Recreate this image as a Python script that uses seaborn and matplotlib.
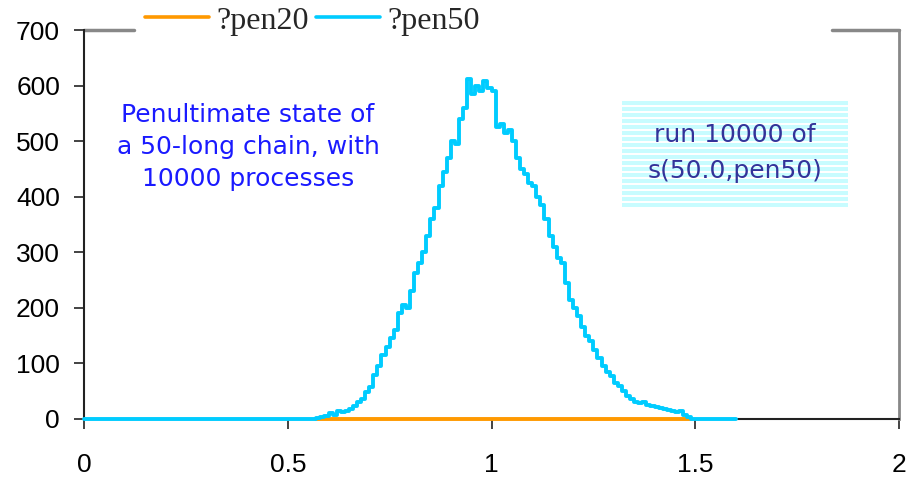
import numpy as np
import pandas as pd
import matplotlib
matplotlib.use("Agg")
import matplotlib.pyplot as plt
from matplotlib.patches import Rectangle
from matplotlib.lines import Line2D
import seaborn as sns

# ---------------- data ----------------
series_names = ["?pen20", "?pen50"]
bin_start = 0.57
bin_width = 0.01
pen50_counts = [2, 4, 6, 10, 8, 14, 12, 15, 18, 24,
                30, 36, 48, 58, 80, 96, 115, 130, 145, 160,
                190, 205, 200, 230, 262, 280, 300, 330, 360, 380,
                420, 445, 470, 500, 495, 540, 560, 612, 585, 600,
                590, 608, 595, 590, 525, 530, 515, 520, 500, 470,
                450, 440, 425, 420, 400, 385, 360, 330, 310, 290,
                280, 245, 215, 200, 185, 165, 150, 140, 125, 110,
                95, 85, 78, 65, 60, 50, 42, 36, 30, 28,
                30, 25, 24, 22, 20, 18, 16, 14, 12, 15,
                8, 4]
pen20_counts = [0] * len(pen50_counts)
x_min, x_max = 0.0, 2.0
pen50_tail_end = 1.6
x_ticks = [0, 0.5, 1, 1.5, 2]
x_tick_labels = ["0", "0.5", "1", "1.5", "2"]
y_ticks = [0, 100, 200, 300, 400, 500, 600, 700]
note_left = "Penultimate state of\na 50-long chain, with\n10000 processes"
note_right = "run 10000 of\ns(50.0,pen50)"

# ---------------- build tables ----------------
n = len(pen50_counts)
edges = [round(bin_start + bin_width * i, 4) for i in range(n + 1)]
x50 = [x_min] + edges + [pen50_tail_end]
y50 = [0] + pen50_counts + [0, 0]
x20 = edges
y20 = pen20_counts + [0]
df = pd.concat([
    pd.DataFrame({"x": x20, "y": y20, "series": series_names[0]}),
    pd.DataFrame({"x": x50, "y": y50, "series": series_names[1]}),
])

# ---------------- style ----------------
sns.set_style("white")
plt.rcParams["font.family"] = ["Liberation Sans", "DejaVu Sans"]

fig = plt.figure(figsize=(9.21, 4.83), dpi=100)
ax = fig.add_axes([84 / 921, 1 - 419 / 483, 815 / 921, 389 / 483])

palette = {"?pen20": "#FF9900", "?pen50": "#00CCFF"}
sns.lineplot(data=df, x="x", y="y", hue="series", palette=palette,
             estimator=None, sort=False, drawstyle="steps-post",
             linewidth=2.8, ax=ax, legend=False, zorder=3, clip_on=False)

ax.set_xlim(x_min, x_max)
ax.set_ylim(0, 700)
ax.set_xticks(x_ticks)
ax.set_xticklabels(x_tick_labels)
ax.set_yticks(y_ticks)
ax.set_xlabel("")
ax.set_ylabel("")
ax.tick_params(axis="both", which="major", direction="out", length=7.2, width=1.2,
               color="#222222", labelsize=19, labelcolor="black",
               bottom=True, left=True, top=False, right=False)
ax.tick_params(axis="x", pad=17)
ax.tick_params(axis="y", pad=10)

for s in ["left", "bottom"]:
    ax.spines[s].set_color("#222222")
    ax.spines[s].set_linewidth(1.5)
ax.spines["right"].set_color("#888888")
ax.spines["right"].set_linewidth(2)
ax.spines["top"].set_visible(False)
# top border broken by the legend area
ax.plot([0, 0.061], [1, 1], transform=ax.transAxes, color="#888888", lw=2.5, clip_on=False)
ax.plot([0.918, 1.0], [1, 1], transform=ax.transAxes, color="#888888", lw=2.5, clip_on=False)

# legend
handles = [Line2D([], [], color=palette[s], lw=2.6) for s in series_names]
fig.legend(handles, series_names, loc="center left",
           bbox_to_anchor=(145 / 921, 1 - 21 / 483), ncol=2, frameon=False,
           prop={"family": "Liberation Serif", "size": 23},
           handlelength=2.0, handletextpad=0.25, columnspacing=0.2,
           borderpad=0, borderaxespad=0)

# left note
fig.text(248 / 921, 1 - 147 / 483, note_left, ha="center", va="center",
         color="#1a1aff", fontsize=18, family=["DejaVu Sans"], linespacing=1.42)

# striped box
bx0, bx1, by0, by1 = 622, 848, 101, 205
y = by0
while y < by1:
    fig.patches.append(Rectangle((bx0 / 921, 1 - (y + 4) / 483), (bx1 - bx0) / 921, 4 / 483,
                                 transform=fig.transFigure, facecolor="#C8FCFF",
                                 edgecolor="none", zorder=0.5))
    y += 6
fig.text(735 / 921, 1 - 153 / 483, note_right, ha="center", va="center",
         color="#333399", fontsize=18, family=["DejaVu Sans"], linespacing=1.6)

fig.savefig("out.png", dpi=100, facecolor="white")
